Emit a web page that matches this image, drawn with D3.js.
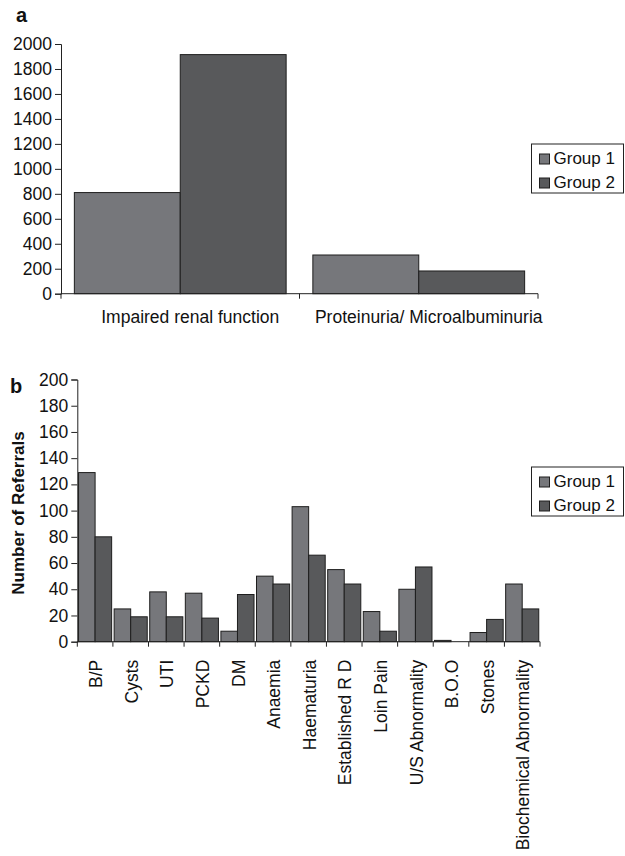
<!DOCTYPE html>
<html>
<head>
<meta charset="utf-8">
<script src="https://cdn.jsdelivr.net/npm/d3@7"></script>
<style>
  body { margin: 0; background: #fff; }
  svg { font-family: "Liberation Sans", Arial, sans-serif; }
</style>
</head>
<body>
<svg id="chart" width="625" height="856"></svg>
<script>
// panel a
const catsA = ["Impaired renal function", "Proteinuria/ Microalbuminuria"];
const group1A = [810, 310];
const group2A = [1915, 182];
const ticksA = [0, 200, 400, 600, 800, 1000, 1200, 1400, 1600, 1800, 2000];

// panel b
const catsB = ["B/P", "Cysts", "UTI", "PCKD", "DM", "Anaemia", "Haematuria",
  "Established R D", "Loin Pain", "U/S Abnormality", "B.O.O", "Stones", "Biochemical Abnormality"];
const group1B = [129, 25, 38, 37, 8, 50, 103, 55, 23, 40, 1, 7, 44];
const group2B = [80, 19, 19, 18, 36, 44, 66, 44, 8, 57, 0, 17, 25];
const ticksB = [0, 20, 40, 60, 80, 100, 120, 140, 160, 180, 200];

const groups = ["Group 1", "Group 2"];
const colors = ["#76777b", "#58595b"];

const svg = d3.select("#chart");

function panel(cfg) {
  const x = d3.scaleBand().domain(cfg.cats).range([cfg.left, cfg.right]);
  const bw = x.bandwidth();
  const x1 = d3.scaleBand().domain(groups).range([bw * cfg.pad, bw * (1 - cfg.pad)]);
  const y = d3.scaleLinear().domain([0, d3.max(cfg.ticks)]).range([cfg.bottom, cfg.top]);

  // y axis
  const ya = svg.append("g").attr("transform", `translate(${cfg.left},0)`)
    .call(d3.axisLeft(y).tickValues(cfg.ticks).tickSize(6).tickPadding(3).tickFormat(d3.format("d")));
  ya.selectAll("text").attr("font-size", 17.5).attr("fill", "#111")
    .attr("font-family", "Liberation Sans, Arial, sans-serif");
  ya.selectAll("line, path").attr("stroke", "#222");

  // bars
  const rows = cfg.cats.map((c, i) => ({ cat: c, vals: [cfg.g1[i], cfg.g2[i]] }));
  const g = svg.append("g");
  rows.forEach(r => {
    r.vals.forEach((v, j) => {
      g.append("rect")
        .attr("x", x(r.cat) + x1(groups[j]))
        .attr("y", y(v))
        .attr("width", x1.bandwidth())
        .attr("height", cfg.bottom - y(v))
        .attr("fill", colors[j])
        .attr("stroke", "#1e1e1e")
        .attr("stroke-width", 1);
    });
  });

  // x axis line and boundary ticks
  svg.append("line").attr("x1", cfg.left).attr("x2", cfg.right)
    .attr("y1", cfg.bottom).attr("y2", cfg.bottom).attr("stroke", "#222");
  const bounds = cfg.cats.map(c => x(c)).concat([cfg.right]);
  svg.append("g").selectAll("line").data(bounds).join("line")
    .attr("x1", d => d).attr("x2", d => d)
    .attr("y1", cfg.bottom).attr("y2", cfg.bottom + 5).attr("stroke", "#222");

  // category labels
  const lab = svg.append("g").selectAll("text").data(cfg.cats).join("text")
    .text(d => d).attr("font-size", 17.5).attr("fill", "#111");
  if (cfg.rotate) {
    lab.attr("text-anchor", "end")
      .attr("transform", d => `translate(${x(d) + bw / 2 + 1},${cfg.bottom + 18}) rotate(-90)`)
      .attr("dy", "0.35em");
  } else {
    lab.attr("text-anchor", "middle")
      .attr("x", d => x(d) + bw / 2 + 10)
      .attr("y", cfg.bottom + 29);
  }

  // legend
  const lg = svg.append("g").attr("transform", `translate(${cfg.legX},${cfg.legY})`);
  lg.append("rect").attr("width", 92).attr("height", 49)
    .attr("fill", "#fff").attr("stroke", "#222");
  groups.forEach((gname, j) => {
    lg.append("rect").attr("x", 8).attr("y", 10 + j * 24).attr("width", 10).attr("height", 10)
      .attr("fill", colors[j]).attr("stroke", "#1e1e1e");
    lg.append("text").attr("x", 22).attr("y", 20 + j * 24)
      .attr("font-size", 17).attr("fill", "#111").text(gname);
  });

  // panel letter
  svg.append("text").attr("x", cfg.letterX).attr("y", cfg.letterY)
    .attr("font-size", 20).attr("font-weight", "bold").attr("fill", "#111").text(cfg.letter);
}

panel({
  cats: catsA, g1: group1A, g2: group2A, ticks: ticksA,
  left: 61, right: 538, top: 44, bottom: 293.7, pad: 0.056,
  rotate: false, legX: 531.5, legY: 144, letter: "a", letterX: 16, letterY: 22
});

panel({
  cats: catsB, g1: group1B, g2: group2B, ticks: ticksB,
  left: 77.3, right: 540, top: 379.5, bottom: 641.7, pad: 0.035,
  rotate: true, legX: 531.5, legY: 467, letter: "b", letterX: 10, letterY: 393
});

// y axis title panel b
svg.append("text")
  .attr("transform", "translate(24,513) rotate(-90)")
  .attr("text-anchor", "middle")
  .attr("font-size", 17).attr("font-weight", "bold").attr("fill", "#111")
  .text("Number of Referrals");
</script>
</body>
</html>
